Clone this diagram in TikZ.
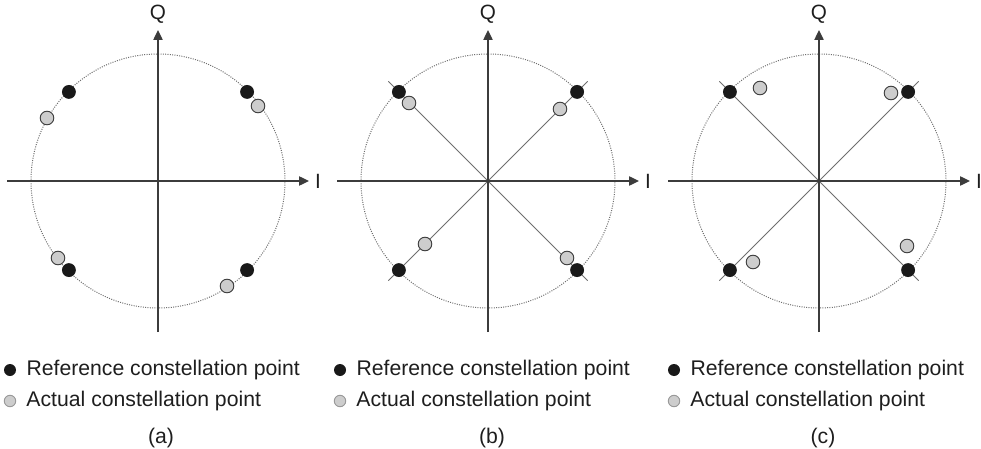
\documentclass[tikz,border=0pt]{standalone}
\usepackage{fontspec}
\setmainfont{Liberation Sans}
\usetikzlibrary{arrows.meta,positioning}
\definecolor{AxisGray}{RGB}{60,60,60}
\definecolor{RefBlack}{RGB}{25,25,25}
\definecolor{ActGray}{RGB}{205,205,205}
\definecolor{RingGray}{RGB}{110,110,110}
\definecolor{TextGray}{RGB}{30,30,30}

\tikzset{
  refpt/.style={circle,fill=RefBlack,inner sep=0pt,minimum size=10.4pt},
  actpt/.style={circle,fill=ActGray,draw=AxisGray,line width=.7pt,inner sep=0pt,minimum size=10.2pt},
  legref/.style={refpt,minimum size=9pt},
  legact/.style={actpt,draw=RingGray!70,minimum size=8.6pt},
  axisline/.style={AxisGray,line width=1pt,-{Triangle[length=7.5pt,width=7pt]}},
  ringline/.style={RingGray,densely dotted,line width=.75pt},
  diagline/.style={RingGray,line width=.6pt},
  axlabel/.style={font=\fontsize{15.5pt}{18pt}\selectfont,text=TextGray,inner sep=0pt},
  legtext/.style={font=\fontsize{15.9pt}{18pt}\selectfont,text=TextGray,inner sep=0pt,anchor=west},
}

\begin{document}
\begin{tikzpicture}[x=0.75pt,y=0.75pt]
  \useasboundingbox (0,0) rectangle (981,-449);

  % (a) phase noise only
  \begin{scope}[shift={(158,-181)}]
    \coordinate (aW) at (-151,0);
    \coordinate (aS) at (0,-151);
    \coordinate (aE) at (151,0);
    \coordinate (aN) at (0,151);
    \node[axlabel] (aI) at (160,0) {I};
    \node[axlabel] (aQ) at (0,167) {Q};
    \draw[ringline] (0,0) circle (127);
    \draw[axisline] (aW) -- (aE);
    \draw[axisline] (aS) -- (aN);
    \foreach \ang in {45,135,225,315}
      \node[refpt] (ar\ang) at (\ang:126) {};
    \foreach \px/\py [count=\k] in {-111/63,100/75,-100/-77,69/-105}
      \node[actpt] (aa\k) at (\px,\py) {};
    % legend
    \node[legref] (aref) at (-148,-189) {};
    \node[legtext,right=7.5pt of aref] (areftxt) {Reference constellation point};
    \node[legact] (aact) at (-148,-220) {};
    \node[legtext,right=7.5pt of aact] (aacttxt) {Actual constellation point};
    \node[legtext,anchor=center] (acap) at (3,-257) {(a)};
  \end{scope}

  % (b) amplitude error along the diagonals
  \begin{scope}[shift={(488,-181)}]
    \coordinate (bW) at (-151,0);
    \coordinate (bS) at (0,-151);
    \coordinate (bE) at (151,0);
    \coordinate (bN) at (0,151);
    \node[axlabel] (bI) at (160,0) {I};
    \node[axlabel] (bQ) at (0,167) {Q};
    \draw[ringline] (0,0) circle (127);
    \foreach \ang in {45,135,225,315}
      \coordinate (bd\ang) at (\ang:141);
    \draw[diagline] (bd45) -- (bd225);
    \draw[diagline] (bd135) -- (bd315);
    \draw[axisline] (bW) -- (bE);
    \draw[axisline] (bS) -- (bN);
    \foreach \ang in {45,135,225,315}
      \node[refpt] (br\ang) at (\ang:126) {};
    \foreach \px/\py [count=\k] in {-79/78,72/72,-63/-63,79/-77}
      \node[actpt] (ba\k) at (\px,\py) {};
    % legend
    \node[legref] (bref) at (-148,-189) {};
    \node[legtext,right=7.5pt of bref] (breftxt) {Reference constellation point};
    \node[legact] (bact) at (-148,-220) {};
    \node[legtext,right=7.5pt of bact] (bacttxt) {Actual constellation point};
    \node[legtext,anchor=center] (bcap) at (4,-257) {(b)};
  \end{scope}

  % (c) amplitude and phase error
  \begin{scope}[shift={(819,-181)}]
    \coordinate (cW) at (-151,0);
    \coordinate (cS) at (0,-151);
    \coordinate (cE) at (151,0);
    \coordinate (cN) at (0,151);
    \node[axlabel] (cI) at (160,0) {I};
    \node[axlabel] (cQ) at (0,167) {Q};
    \draw[ringline] (0,0) circle (127);
    \foreach \ang in {45,135,225,315}
      \coordinate (cd\ang) at (\ang:141);
    \draw[diagline] (cd45) -- (cd225);
    \draw[diagline] (cd135) -- (cd315);
    \draw[axisline] (cW) -- (cE);
    \draw[axisline] (cS) -- (cN);
    \foreach \ang in {45,135,225,315}
      \node[refpt] (cr\ang) at (\ang:126) {};
    \foreach \px/\py [count=\k] in {-59/93,72/88,-66/-81,88/-65}
      \node[actpt] (ca\k) at (\px,\py) {};
    % legend
    \node[legref] (cref) at (-145,-189) {};
    \node[legtext,right=7.5pt of cref] (creftxt) {Reference constellation point};
    \node[legact] (cact) at (-145,-220) {};
    \node[legtext,right=7.5pt of cact] (cacttxt) {Actual constellation point};
    \node[legtext,anchor=center] (ccap) at (4,-257) {(c)};
  \end{scope}
\end{tikzpicture}
\end{document}
